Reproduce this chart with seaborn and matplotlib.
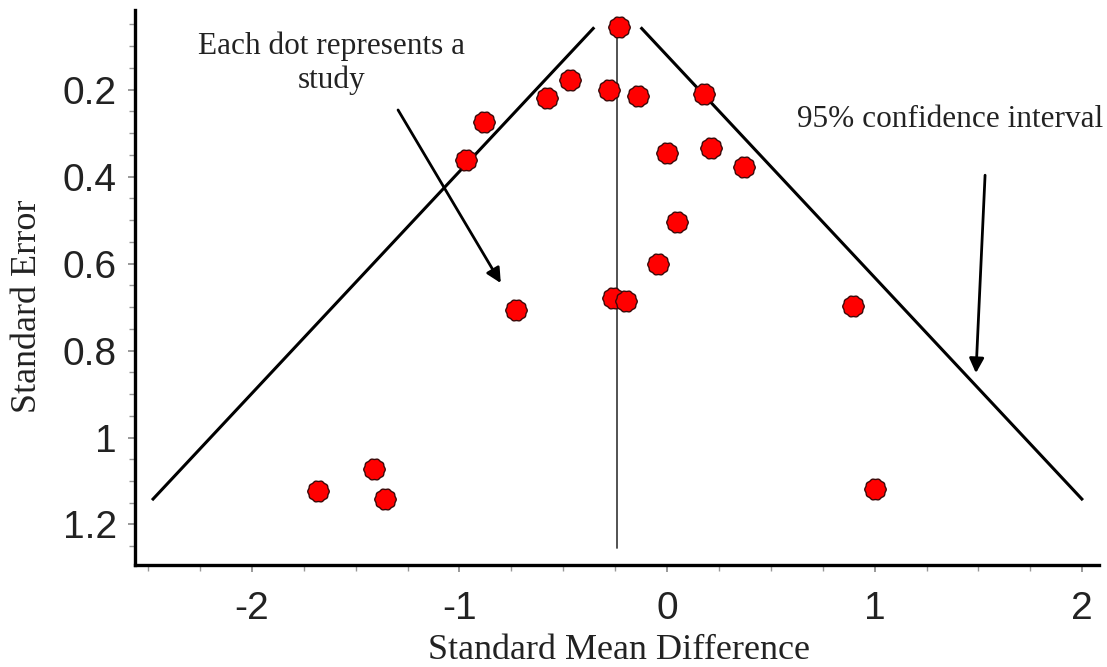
import numpy as np
import pandas as pd
import matplotlib
matplotlib.use("Agg")
import matplotlib.pyplot as plt
from matplotlib.path import Path
from matplotlib.ticker import FixedLocator
import seaborn as sns

# Per-study effect sizes (standardised mean difference) and standard errors
smd = [-0.23, -0.47, -0.58, -0.28, -0.14, 0.18, -0.88, -0.97, 0.00, 0.21,
       0.37, 0.05, -0.045, -0.73, -0.26, -0.197, 0.897, -1.41, -1.68, -1.36, 1.00]
se = [0.057, 0.178, 0.220, 0.201, 0.215, 0.211, 0.274, 0.362, 0.345, 0.335,
      0.377, 0.504, 0.600, 0.707, 0.680, 0.686, 0.698, 1.073, 1.123, 1.141, 1.119]

# Pooled effect and the standard-error span of the 95% funnel
pooled_smd = -0.239
z95 = 1.96
funnel_se = [0.057, 1.144]
axis_line_se = [0.04, 1.254]

x_ticks = [-2, -1, 0, 1, 2]
x_tick_labels = ["-2", "-1", "0", "1", "2"]
y_ticks = [0.2, 0.4, 0.6, 0.8, 1.0, 1.2]
y_tick_labels = ["0.2", "0.4", "0.6", "0.8", "1", "1.2"]

studies = pd.DataFrame({"smd": smd, "se": se})

sns.set_theme(style="white")
plt.rcParams["axes.unicode_minus"] = False
SANS = "Liberation Sans"
SERIF = "Liberation Serif"

fig = plt.figure(figsize=(11.07, 6.67), dpi=100)
ax = fig.add_axes([0.122, 0.153, 0.9928 - 0.122, 0.985 - 0.153])

# 95% confidence funnel
fse = np.array(funnel_se)
ax.plot(pooled_smd - z95 * fse, fse, color="black", lw=2.2, solid_capstyle="butt", zorder=2)
ax.plot(pooled_smd + z95 * fse, fse, color="black", lw=2.2, solid_capstyle="butt", zorder=2)
# pooled estimate
ax.plot([pooled_smd, pooled_smd], axis_line_se, color="#444444", lw=1.3, zorder=2)

# slightly scalloped dot marker
theta = np.linspace(0, 2 * np.pi, 121)
r = 1 + 0.035 * np.cos(10 * theta)
dot = Path(np.column_stack([r * np.cos(theta), r * np.sin(theta)]), closed=True)

sns.scatterplot(data=studies, x="smd", y="se", ax=ax, marker=dot, s=240,
                color="#ff0000", edgecolor="#3a0a0a", linewidth=1.0, zorder=3,
                legend=False)

ax.set_xlim(-2.563, 2.081)
ax.set_ylim(1.293, 0.0172)

ax.xaxis.set_major_locator(FixedLocator(x_ticks))
ax.set_xticklabels(x_tick_labels)
ax.xaxis.set_minor_locator(FixedLocator(list(np.arange(-2.5, 2.01, 0.25))))
ax.yaxis.set_major_locator(FixedLocator(y_ticks))
ax.set_yticklabels(y_tick_labels)
ax.yaxis.set_minor_locator(FixedLocator(list(np.arange(0.05, 1.26, 0.05))))

for lab in ax.get_xticklabels() + ax.get_yticklabels():
    lab.set_fontfamily(SANS)
    lab.set_fontsize(28)
    lab.set_color("#222222")

ax.tick_params(axis="both", which="major", direction="out", length=5, width=1.2,
               color="#888888", bottom=True, left=True)
ax.tick_params(axis="both", which="minor", direction="out", length=4, width=1.0,
               color="#999999", bottom=True, left=True)
ax.tick_params(axis="x", which="major", pad=13.5)
ax.tick_params(axis="y", which="major", pad=8)

for side in ["top", "right"]:
    ax.spines[side].set_visible(False)
for side in ["left", "bottom"]:
    ax.spines[side].set_color("black")
    ax.spines[side].set_linewidth(2.4)

ax.set_xlabel("Standard Mean Difference", fontfamily=SERIF, fontsize=26, color="#222222")
ax.set_ylabel("Standard Error", fontfamily=SERIF, fontsize=26, color="#222222")
ax.xaxis.set_label_coords(0.502, -0.124)
ax.yaxis.set_label_coords(-0.094, 0.467)

# annotations
ax.text(-1.616, 0.197, "Each dot represents a\nstudy", fontfamily=SERIF, fontsize=22.5,
        ha="center", va="baseline", color="#222222", linespacing=1.2)
ax.text(1.366, 0.286, "95% confidence interval", fontfamily=SERIF, fontsize=22.5,
        ha="center", va="baseline", color="#222222")

arrow = dict(arrowstyle="-|>", color="black", lw=2.0, mutation_scale=22,
             shrinkA=0, shrinkB=0)
ax.annotate("", xy=(-0.801, 0.645), xytext=(-1.296, 0.247), arrowprops=arrow)
ax.annotate("", xy=(1.488, 0.852), xytext=(1.532, 0.397), arrowprops=arrow)

fig.savefig("out.png", dpi=100, facecolor="white")
